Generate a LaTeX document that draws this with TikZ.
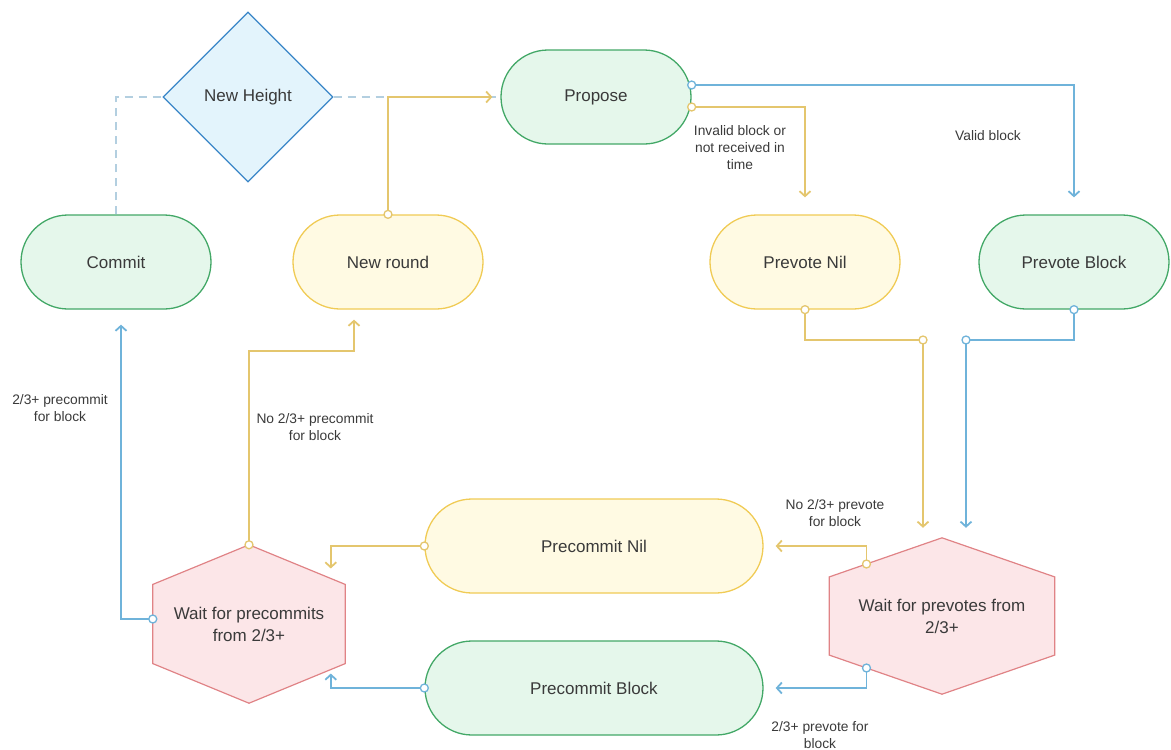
\documentclass[tikz,border=0pt]{standalone}
\usepackage{fontspec}
\setmainfont{Liberation Sans}
\usetikzlibrary{shapes.geometric,shapes.misc,arrows.meta,calc,backgrounds}

\definecolor{greenfill}{HTML}{E5F7EB}
\definecolor{greendraw}{HTML}{43A867}
\definecolor{yellowfill}{HTML}{FFFAE3}
\definecolor{yellowdraw}{HTML}{F0CB55}
\definecolor{bluefill}{HTML}{E3F4FC}
\definecolor{bluedraw}{HTML}{3A86C8}
\definecolor{redfill}{HTML}{FCE6E8}
\definecolor{reddraw}{HTML}{E08386}
\definecolor{ylwline}{HTML}{E4C66E}
\definecolor{bluline}{HTML}{6FB3DA}
\definecolor{dashline}{HTML}{B3CFE0}
\definecolor{textgray}{HTML}{3A3A3A}

\tikzset{
  pill/.style={rounded rectangle, line width=1.3pt, minimum width=190pt,
    minimum height=94pt, inner sep=0pt, text=textgray,
    font=\fontsize{17}{22}\selectfont},
  greenpill/.style={pill, draw=greendraw, fill=greenfill},
  yellowpill/.style={pill, draw=yellowdraw, fill=yellowfill},
  decision/.style={diamond, draw=bluedraw, fill=bluefill, line width=1.3pt,
    minimum width=170pt, minimum height=170pt, inner sep=0pt, text=textgray,
    font=\fontsize{17}{22}\selectfont},
  waitbox/.style={inner sep=0pt, align=center, text=textgray,
    font=\fontsize{17}{22}\selectfont},
  hexline/.style={draw=reddraw, fill=redfill, line width=1.2pt},
  ylwpath/.style={draw=ylwline, line width=1.8pt},
  blupath/.style={draw=bluline, line width=1.8pt},
  ylwflow/.style={ylwpath, -{Straight Barb[length=5pt,width=11pt]}},
  bluflow/.style={blupath, -{Straight Barb[length=5pt,width=11pt]}},
  heightlink/.style={draw=dashline, line width=1.8pt, dash pattern=on 8pt off 6pt},
  lbl/.style={align=center, text=textgray, font=\fontsize{13.8}{17}\selectfont},
  port/.style={fill=white, line width=1.3pt},
}

\begin{document}
\begin{tikzpicture}[x=1pt, y=-1pt]
  \useasboundingbox (0,0) rectangle (1171,750);

  % states
  \node[decision] (nheight) at (248,97) {New Height};
  \node[greenpill] (commit) at (116,262) {Commit};
  \node[yellowpill] (nround) at (388,262) {New round};
  \node[greenpill] (propose) at (596,97) {Propose};
  \node[yellowpill] (pnil) at (805,262) {Prevote Nil};
  \node[greenpill] (pblock) at (1074,262) {Prevote Block};
  \node[yellowpill, minimum width=338pt] (pcnil) at (594,546) {Precommit Nil};
  \node[greenpill, minimum width=338pt] (pcblk) at (594,688) {Precommit Block};
  \node[waitbox, minimum width=192pt, minimum height=158pt] (wpc) at (249,624)
    {Wait for precommits\\from 2/3+};
  \node[waitbox, minimum width=225pt, minimum height=156pt] (wpv) at (942,616)
    {Wait for prevotes from\\2/3+};

  % hexagon corners
  \foreach \h in {wpc,wpv} {
    \coordinate (\h-ne) at ($(\h.east)!.5!(\h.north east)$);
    \coordinate (\h-se) at ($(\h.east)!.5!(\h.south east)$);
    \coordinate (\h-sw) at ($(\h.west)!.5!(\h.south west)$);
    \coordinate (\h-nw) at ($(\h.west)!.5!(\h.north west)$);
  }
  \begin{scope}[on background layer]
    \foreach \h in {wpc,wpv}
      \draw[hexline] (\h.north) -- (\h-ne) -- (\h-se) -- (\h.south)
        -- (\h-sw) -- (\h-nw) -- cycle;
  \end{scope}

  % connection points
  \coordinate (propose-blk) at ([yshift=12pt]propose.east);
  \coordinate (propose-nil) at ([yshift=-10pt]propose.east);
  \coordinate (jnil) at (923,340);
  \coordinate (jblk) at (966,340);
  \coordinate (wpv-nilout) at ($(wpv.north)!.67!(wpv-nw)$);
  \coordinate (wpv-blkout) at ($(wpv-sw)!.33!(wpv.south)$);
  \coordinate (wpc-nilin) at ($(wpc.north)!.85!(wpc-ne)$);
  \coordinate (wpc-blkin) at ($(wpc.south)!.85!(wpc-se)$);
  \coordinate (wpc-cmt) at ([yshift=5pt]wpc.west);

  % new height
  \draw[heightlink] (commit.north) |- (nheight.west);
  \draw[heightlink] (nheight.east) -- (propose.west);

  % transitions
  \draw[ylwflow, shorten >=8pt] (nround.north) |- (propose.west);
  \draw[bluflow, shorten >=17pt] (propose-blk) -| (pblock.north);
  \draw[ylwflow, shorten >=17pt] (propose-nil) -| (pnil.north);

  \draw[ylwpath] (pnil.south) |- (jnil);
  \draw[ylwflow, shorten >=10pt] (jnil) -- (jnil |- wpv.north);
  \draw[blupath] (pblock.south) |- (jblk);
  \draw[bluflow, shorten >=10pt] (jblk) -- (jblk |- wpv.north);

  \draw[ylwflow, shorten >=12pt] (wpv-nilout) |- (pcnil.east);
  \draw[bluflow, shorten >=12pt] (wpv-blkout) |- (pcblk.east);

  \draw[ylwflow, shorten >=10pt] (pcnil.west) -| (wpc-nilin);
  \draw[bluflow, shorten >=4pt] (pcblk.west) -| (wpc-blkin);

  \draw[bluflow, shorten >=15pt] (wpc-cmt) -| ([xshift=5pt]commit.south);
  \draw[ylwflow, shorten >=10pt] (wpc.north) -- ++(0,-194)
    -| ([xshift=-34pt]nround.south);

  % ports
  \foreach \p in {nround.north,propose-nil,pnil.south,jnil,wpv-nilout,pcnil.west,wpc.north}
    \draw[port, draw=ylwline] (\p) circle (4pt);
  \foreach \p in {propose-blk,pblock.south,jblk,wpv-blkout,pcblk.west,wpc-cmt}
    \draw[port, draw=bluline] (\p) circle (4pt);

  % labels
  \node[lbl] (lnil) at (740,148) {Invalid block or\\not received in\\time};
  \node[lbl] (lvalid) at (988,136) {Valid block};
  \node[lbl] (lcommit) at (60,408) {2/3+ precommit\\for block};
  \node[lbl] (lnoround) at (315,427) {No 2/3+ precommit\\for block};
  \node[lbl] (lnoprevote) at (835,513) {No 2/3+ prevote\\for block};
  \node[lbl] (lprevote) at (820,735) {2/3+ prevote for\\block};
\end{tikzpicture}
\end{document}
